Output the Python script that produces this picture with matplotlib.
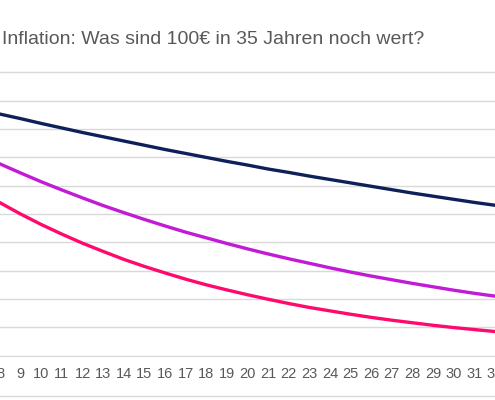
import matplotlib

matplotlib.use("Agg")

import matplotlib.pyplot as plt  # noqa: E402

years = list(range(8, 33))
# value of 100 EUR after n years, three inflation scenarios
low = [85.3, 83.7, 82.0, 80.4, 78.8, 77.3, 75.8, 74.3, 72.8, 71.4, 70.0, 68.6, 67.3,
       65.9, 64.7, 63.4, 62.2, 61.0, 59.8, 58.6, 57.4, 56.3, 55.2, 54.1, 53.1]
mid = [67.7, 64.5, 61.4, 58.5, 55.7, 53.0, 50.5, 48.1, 45.8, 43.6, 41.6, 39.6, 37.7,
       35.9, 34.2, 32.6, 31.0, 29.5, 28.1, 26.8, 25.5, 24.3, 23.1, 22.0, 21.0]
high = [54.0, 50.0, 46.3, 42.9, 39.7, 36.8, 34.0, 31.5, 29.2, 27.0, 25.0, 23.2, 21.5,
        19.9, 18.4, 17.0, 15.8, 14.6, 13.5, 12.5, 11.6, 10.7, 9.9, 9.2, 8.5]
title = "Inflation: Was sind 100€ in 35 Jahren noch wert?"

plt.rcParams["font.family"] = ["Liberation Sans", "DejaVu Sans"]

fig = plt.figure(figsize=(4.95, 4.0), dpi=100)
ax = fig.add_axes([0, 0.111, 1, 0.889])
ax.plot(years, low, color="#0f1f5a", lw=2.4)
ax.plot(years, mid, color="#c21ad6", lw=2.4)
ax.plot(years, high, color="#ff0a6c", lw=2.4)

ax.set_xlim(9.196, 31.22)
ax.set_ylim(0, 125.6)
ax.set_yticks(range(0, 101, 10))
ax.set_xticks(years)
ax.grid(axis="y", color="#d9d9d9", lw=1)
ax.set_axisbelow(True)
for s in ("top", "left", "right"):
    ax.spines[s].set_visible(False)
ax.spines["bottom"].set_color("#d9d9d9")
ax.tick_params(axis="y", left=False, labelleft=False)
ax.tick_params(axis="x", length=0, labelsize=10.5, colors="#595959", pad=8)

fig.text(0.004, 0.9, title, fontsize=14, color="#595959", va="center", ha="left")
fig.add_artist(plt.Line2D([0, 1], [0.01, 0.01], color="#d9d9d9", lw=1))
fig.savefig("out.png", dpi=100)
plt.close(fig)
